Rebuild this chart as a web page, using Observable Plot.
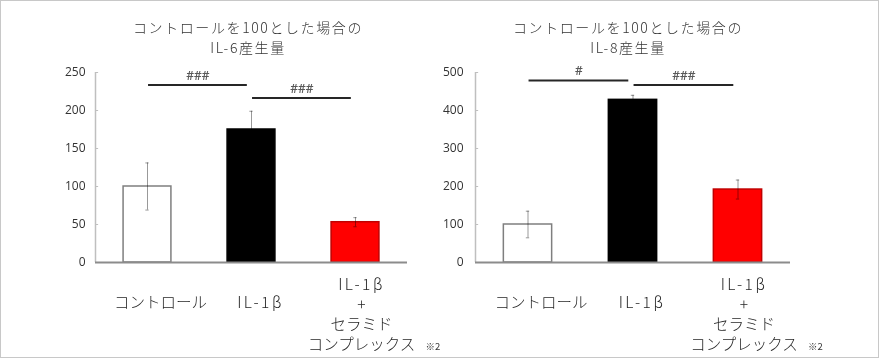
<!DOCTYPE html>
<html>
<head>
<meta charset="utf-8">
<script src="https://cdn.jsdelivr.net/npm/d3@7"></script>
<script src="https://cdn.jsdelivr.net/npm/@observablehq/plot@0.6"></script>
<style>
  html, body { margin: 0; padding: 0; background: #fff; }
  #frame { position: relative; width: 877px; height: 356px; border: 1px solid #c8c8c8; background: #fff; overflow: hidden; }
  .panel { position: absolute; top: 0; height: 356px; }
  .title { position: absolute; top: 16px; width: 400px; text-align: center; font-family: 'Noto Sans CJK JP', sans-serif;
           font-size: 14px; font-weight: 300; line-height: 20px; letter-spacing: 1.6px; color: #333; }
  svg { overflow: visible; }
</style>
</head>
<body>
<div id="frame">
  <div id="left" class="panel" style="left:0;width:440px"></div>
  <div id="right" class="panel" style="left:440px;width:437px"></div>
</div>
<script>
// ---- data ----
const categories = ["コントロール", "IL-1β", "IL-1β\n+\nセラミド\nコンプレックス"];
const notes = ["", "", "※2"];
const il6Title = ["コントロールを100とした場合の", "IL-6産生量"];
const il8Title = ["コントロールを100とした場合の", "IL-8産生量"];
const il6Values = [100, 175, 53];
const il6Errors = [31, 24, 6];
const il8Values = [100, 428, 192];
const il8Errors = [35, 12, 25];
const il6Ticks = [0, 50, 100, 150, 200, 250];
const il8Ticks = [0, 100, 200, 300, 400, 500];
const comparisons = [[0, 1], [1, 2]];
const il6SigLabels = ["###", "###"];
const il6SigLevels = [233.5, 216.5];
const il8SigLabels = ["#", "###"];
const il8SigLevels = [479, 467];

// ---- styles ----
const barFills = ["#ffffff", "#000000", "#ff0000"];
const barStrokes = ["#7f7f7f", "#000000", "#c00000"];
const labelDx = [13, 9, 6];

function chart(opts) {
  const {values, errors, ticks, sigLabels, sigLevels, width, marginLeft, marginRight, tickPadding} = opts;
  const yMax = ticks[ticks.length - 1];
  const data = categories.map((c, i) => ({i, c, v: values[i], e: errors[i], note: notes[i]}));
  const sigData = comparisons.map(([a, b], k) => ({x1: a + 0.01, x2: b - 0.04, y: sigLevels[k], t: sigLabels[k]}));
  const font = "'Noto Sans CJK JP', 'Noto Sans', sans-serif";
  const errStyle = {stroke: "#999", mixBlendMode: "multiply"};
  const svg = Plot.plot({
    width, height: 356,
    marginLeft, marginRight, marginTop: 71, marginBottom: 95,
    style: {fontFamily: font, overflow: "visible", background: "transparent"},
    x: {type: "linear", domain: [-0.5, 2.5], axis: null},
    y: {domain: [0, yMax], axis: null},
    color: {type: "identity"},
    marks: [
      Plot.axisY(ticks, {tickSize: 0, tickPadding, fontSize: 12, fill: "#333", fontFamily: "'Open Sans', sans-serif"}),
      Plot.ruleX([-0.5], {y1: 0, y2: yMax, stroke: "#bfbfbf", strokeWidth: 1.5}),
      Plot.ruleY(ticks, {x1: -0.5, x2: -0.47, stroke: "#bfbfbf"}),
      Plot.rectY(data, {x1: d => d.i - 0.23, x2: d => d.i + 0.23, y1: 0, y2: "v",
        fill: d => barFills[d.i], stroke: d => barStrokes[d.i], strokeWidth: 1.5}),
      Plot.ruleX(data, {x: "i", y1: d => d.v - d.e, y2: d => d.v + d.e, ...errStyle}),
      Plot.ruleY(data, {y: d => d.v + d.e, x1: d => d.i - 0.016, x2: d => d.i + 0.016, ...errStyle}),
      Plot.ruleY(data, {y: d => d.v - d.e, x1: d => d.i - 0.016, x2: d => d.i + 0.016, ...errStyle}),
      Plot.ruleY([0], {x1: -0.5, x2: 2.5, stroke: "#8c8c8c", strokeWidth: 2}),
      Plot.ruleY(sigData, {y: "y", x1: "x1", x2: "x2", stroke: "#262626", strokeWidth: 2}),
      Plot.text(sigData, {x: d => (d.x1 + d.x2) / 2, y: "y", text: "t", dy: -9, fontSize: 12, fontWeight: 600,
        fill: "#595959", fontFamily: "'Open Sans', sans-serif"}),
      Plot.text([data[0]], {x: "i", y: 0, text: "c", dy: 41, dx: labelDx[0], fontSize: 15.5, fontWeight: 300, fill: "#262626"}),
      Plot.text([data[1]], {x: "i", y: 0, text: "c", dy: 41, dx: labelDx[1], fontSize: 15.5, fontWeight: 300, fill: "#262626"}),
      Plot.text([data[2]], {x: "i", y: 0, text: "c", lineAnchor: "top", lineHeight: 1.3, dy: 13, dx: labelDx[2], fontSize: 15.5, fontWeight: 300, fill: "#262626"}),
      Plot.text([data[2]], {x: "i", y: 0, text: "note", textAnchor: "start", dy: 84, dx: labelDx[2] + 64, fontSize: 9.5, fill: "#333"})
    ]
  });
  // widen the Latin label "IL-1β" like the reference's typeface
  d3.select(svg).selectAll("text, tspan")
    .filter(function () { return this.childElementCount === 0 && /IL-1β/.test(this.textContent); })
    .attr("letter-spacing", 2.5);
  return svg;
}

function panel(id, titleLines, centerX, opts) {
  const el = document.getElementById(id);
  el.appendChild(chart(opts));
  const t = document.createElement("div");
  t.className = "title";
  t.style.left = (centerX - 200) + "px";
  t.innerHTML = titleLines.map(s => `<div>${s}</div>`).join("");
  el.appendChild(t);
}

panel("left", il6Title, 247, {values: il6Values, errors: il6Errors, ticks: il6Ticks, sigLabels: il6SigLabels,
  sigLevels: il6SigLevels, width: 440, marginLeft: 94, marginRight: 34, tickPadding: 10});
panel("right", il8Title, 187, {values: il8Values, errors: il8Errors, ticks: il8Ticks, sigLabels: il8SigLabels,
  sigLevels: il8SigLevels, width: 437, marginLeft: 34, marginRight: 88, tickPadding: 12});
</script>
</body>
</html>
